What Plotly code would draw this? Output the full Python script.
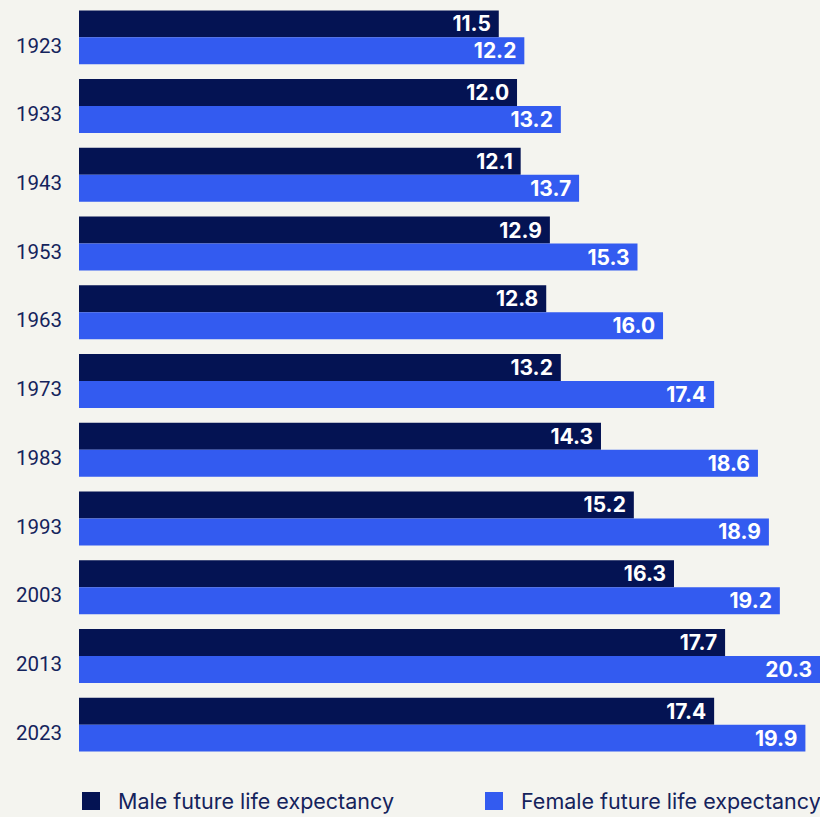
import plotly.graph_objects as go

years = ["1923", "1933", "1943", "1953", "1963", "1973", "1983", "1993", "2003", "2013", "2023"]
male = [11.5, 12.0, 12.1, 12.9, 12.8, 13.2, 14.3, 15.2, 16.3, 17.7, 17.4]
female = [12.2, 13.2, 13.7, 15.3, 16.0, 17.4, 18.6, 18.9, 19.2, 20.3, 19.9]
series_names = ["Male future life expectancy", "Female future life expectancy"]

MALE_C = "#041353"
FEMALE_C = "#335BF0"
TEXT_C = "#14235C"
BG = "#F4F4EF"
FONT = "Inter"

fig = go.Figure()
for name, vals, col in [(series_names[0], male, MALE_C), (series_names[1], female, FEMALE_C)]:
    fig.add_trace(go.Bar(
        y=years, x=vals, orientation="h", name=name,
        marker=dict(color=col, line=dict(width=0)),
        text=[f"{v:.1f}\u00a0" for v in vals],
        textposition="inside", insidetextanchor="end",
        constraintext="none",
        textfont=dict(family=FONT, size=21, color="white", weight="bold"),
        textangle=0,
        showlegend=False,
        hoverinfo="skip",
    ))

fig.update_layout(
    width=820, height=817,
    margin=dict(l=79, r=0, t=3, b=58),
    paper_bgcolor=BG, plot_bgcolor=BG,
    barmode="group", bargap=0.215, bargroupgap=0,
    xaxis=dict(range=[0, 20.3], visible=False, fixedrange=True),
    yaxis=dict(autorange="reversed", showgrid=False, zeroline=False, showline=False,
               ticks="", ticklabelstandoff=16, ticklabelshift=-8,
               tickfont=dict(family="Roboto", size=20.5, color=TEXT_C)),
    font=dict(family=FONT, color=TEXT_C),
)

# custom legend
legend_items = [(series_names[0], MALE_C, 82), (series_names[1], FEMALE_C, 485)]
for name, col, x0 in legend_items:
    fig.add_shape(type="rect", xref="paper", yref="paper",
                  x0=(x0 - 79) / 741, x1=(x0 + 18 - 79) / 741,
                  y0=(817 - 58 - 810) / 756, y1=(817 - 58 - 792) / 756,
                  fillcolor=col, line=dict(width=0))
    fig.add_annotation(xref="paper", yref="paper",
                       x=(x0 + 34 - 79) / 741, y=(817 - 58 - 801) / 756,
                       xanchor="left", yanchor="middle", showarrow=False,
                       text=name, font=dict(family=FONT, size=21.5, color=TEXT_C))

fig.write_html("out.html", config={"displayModeBar": False},
               post_script="document.body.style.margin='0';document.body.style.overflow='hidden';")
